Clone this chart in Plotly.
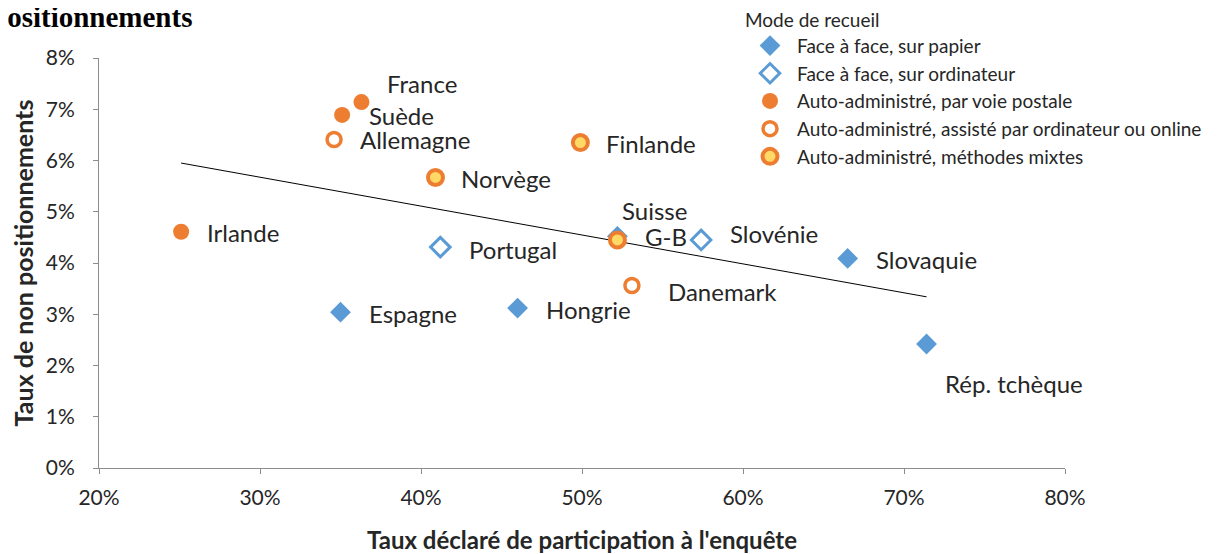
import plotly.graph_objects as go

# Data (rates in %)
countries = ["France", "Suède", "Allemagne", "Finlande", "Norvège", "Irlande", "Portugal",
             "Suisse", "G-B", "Slovénie", "Slovaquie", "Danemark", "Espagne", "Hongrie", "Rép. tchèque"]
participation = [36.3, 35.1, 34.6, 49.9, 40.9, 25.1, 41.2, 52.2, 52.2, 57.4, 66.5, 53.1, 35.0, 46.0, 71.4]
non_position = [7.14, 6.89, 6.41, 6.35, 5.67, 4.61, 4.31, 4.52, 4.45, 4.45, 4.09, 3.56, 3.04, 3.12, 2.42]
mode = ["postal", "postal", "online", "mixte", "mixte", "postal", "ff_ordi",
        "ff_papier", "mixte", "ff_ordi", "ff_papier", "online", "ff_papier", "ff_papier", "ff_papier"]

mode_keys = ["ff_papier", "ff_ordi", "postal", "online", "mixte"]
mode_names = ["Face à face, sur papier", "Face à face, sur ordinateur", "Auto-administré, par voie postale",
              "Auto-administré, assisté par ordinateur ou online", "Auto-administré, méthodes mixtes"]

trend_x = [25.1, 71.4]
trend_y = [5.95, 3.34]

# label offsets in pixels (xshift, yshift)
label_shift = {
    "France": (24, 19), "Suède": (25, -1), "Allemagne": (24, 0), "Finlande": (24, -1),
    "Norvège": (24, -1), "Irlande": (24, -1), "Portugal": (27, -2), "Suisse": (3, 26),
    "G-B": (26, 3), "Slovénie": (27, 6), "Slovaquie": (26, -1), "Danemark": (34, -6),
    "Espagne": (26, -1), "Hongrie": (26, -1), "Rép. tchèque": (16, -40),
}

BLUE = "#5B9BD5"
ORANGE = "#ED7D31"
YELLOW = "#FFD966"
styles = {
    "ff_papier": dict(symbol="diamond", size=16, color=BLUE, line=dict(width=0, color=BLUE)),
    "ff_ordi": dict(symbol="diamond-open", size=15, color=BLUE, line=dict(width=3, color=BLUE)),
    "postal": dict(symbol="circle", size=16, color=ORANGE, line=dict(width=0, color=ORANGE)),
    "online": dict(symbol="circle", size=14, color="white", line=dict(width=3.5, color=ORANGE)),
    "mixte": dict(symbol="circle", size=15, color=YELLOW, line=dict(width=4, color=ORANGE)),
}

FONT = "Lato"
TXT = "#262626"
W, H = 1223, 546          # page body has an 8px margin
L, R, T, B = 91, 166, 50, 86
PW, PH = W - L - R, H - T - B
BOTTOM = H - B            # pixel row of the x axis inside the figure

fig = go.Figure()

fig.add_trace(go.Scatter(x=trend_x, y=trend_y, mode="lines", line=dict(color="black", width=1),
                         showlegend=False, hoverinfo="skip"))

for key, name in zip(mode_keys, mode_names):
    xs = [participation[i] for i in range(len(countries)) if mode[i] == key]
    ys = [non_position[i] for i in range(len(countries)) if mode[i] == key]
    st = styles[key]
    fig.add_trace(go.Scatter(x=xs, y=ys, mode="markers", name=name, legendgroup=key,
                             marker=dict(symbol=st["symbol"], size=st["size"], color=st["color"],
                                         line=st["line"])))

for c, x, y in zip(countries, participation, non_position):
    dx, dy = label_shift[c]
    fig.add_annotation(x=x, y=y, text=c, showarrow=False, xanchor="left", yanchor="middle",
                       xshift=dx, yshift=dy, font=dict(family=FONT, size=24, color=TXT))

# partial title (cut at the left edge in the reference)
fig.add_annotation(xref="paper", yref="paper", x=(186 - L) / PW, y=(BOTTOM - 9) / PH,
                   text="<b>positionnements</b>", showarrow=False, xanchor="right", yanchor="middle",
                   font=dict(family="Liberation Serif", size=29, color="black"))

fig.update_layout(
    width=W, height=H,
    margin=dict(l=L, r=R, t=T, b=B, autoexpand=False),
    paper_bgcolor="white", plot_bgcolor="white",
    font=dict(family=FONT, color=TXT),
    legend=dict(
        title=dict(text="Mode de recueil", font=dict(family=FONT, size=19, color=TXT)),
        x=(735 - L) / PW, y=(BOTTOM + 6) / PH, xanchor="left", yanchor="top",
        font=dict(family=FONT, size=19, color=TXT),
        tracegroupgap=0, itemwidth=44, bgcolor="rgba(0,0,0,0)",
    ),
)

fig.update_xaxes(range=[20, 80], tickvals=[20, 30, 40, 50, 60, 70, 80],
                 ticktext=["20%", "30%", "40%", "50%", "60%", "70%", "80%"],
                 showgrid=False, zeroline=False, showline=True, linecolor="#8C8C8C", linewidth=1,
                 ticks="outside", ticklen=5, tickcolor="#8C8C8C", ticklabelstandoff=6,
                 tickfont=dict(family=FONT, size=21, color=TXT), automargin=False,
                 title=dict(text="<b>Taux déclaré de participation à l'enquête</b>", standoff=24,
                            font=dict(family=FONT, size=24, color=TXT)))
fig.update_yaxes(range=[0, 8], tickvals=[0, 1, 2, 3, 4, 5, 6, 7, 8],
                 ticktext=["0%", "1%", "2%", "3%", "4%", "5%", "6%", "7%", "8%"],
                 showgrid=False, zeroline=False, showline=True, linecolor="#8C8C8C", linewidth=1,
                 ticks="outside", ticklen=5, tickcolor="#8C8C8C", ticklabelstandoff=14,
                 tickfont=dict(family=FONT, size=21, color=TXT), automargin=False,
                 title=dict(text="<b>Taux de non positionnements</b>", standoff=13,
                            font=dict(family=FONT, size=25, color=TXT)))

fig.write_html("out.html")
